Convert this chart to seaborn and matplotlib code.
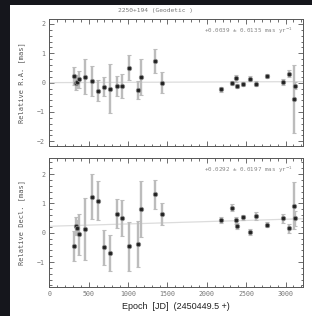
import numpy as np
import pandas as pd
import matplotlib
matplotlib.use("Agg")
import matplotlib.pyplot as plt
import seaborn as sns
from matplotlib.patches import Rectangle
from matplotlib.ticker import MultipleLocator

# Epochs (days after JD 2450449.5)
epochs = [317, 339, 347, 377, 457, 545, 615, 698, 774, 854, 922, 1006, 1130, 1159,
          1340, 1427, 2177, 2323, 2365, 2389, 2460, 2549, 2628, 2761, 2972, 3046,
          3110, 3118]

# Relative R.A. [mas]
ra = [0.23, 0.0, 0.03, 0.11, 0.2, 0.06, -0.27, -0.14, -0.2, -0.11, -0.11, 0.51, -0.25,
      0.2, 0.74, 0.0, -0.23, -0.02, 0.15, -0.11, -0.06, 0.13, -0.03, 0.22, 0.02, 0.31,
      -0.56, -0.1]
ra_err = [0.3, 0.25, 0.2, 0.3, 0.6, 0.5, 0.37, 0.33, 0.84, 0.33, 0.4, 0.42, 0.32, 0.62,
          0.41, 0.37, 0.08, 0.07, 0.12, 0.07, 0.07, 0.08, 0.1, 0.07, 0.1, 0.12, 1.15, 0.12]

# Relative Decl. [mas]
dec = [-0.45, 0.22, 0.17, -0.06, 0.12, 1.23, 1.09, -0.5, -0.69, 0.65, 0.5, -0.47, -0.38,
       0.82, 1.31, 0.65, 0.42, 0.85, 0.42, 0.22, 0.52, 0.02, 0.57, 0.28, 0.49, 0.15,
       0.92, 0.49]
dec_err = [0.52, 0.3, 0.25, 0.7, 1.05, 0.76, 0.67, 0.6, 0.6, 0.49, 0.6, 0.83, 0.78, 0.95,
           0.49, 0.37, 0.1, 0.12, 0.13, 0.1, 0.1, 0.1, 0.15, 0.1, 0.15, 0.15, 0.8, 0.25]

# Linear fits: intercept [mas], slope [mas/yr]
ra_fit = (0.0, 0.0039)
dec_fit = (0.22, 0.0292)
ra_text = "+0.0039 \u00b1 0.0135 mas yr$^{-1}$"
dec_text = "+0.0292 \u00b1 0.0197 mas yr$^{-1}$"

sns.set_style("ticks")
plt.rcParams["font.family"] = ["DejaVu Sans Mono", "DejaVu Sans"]

fig = plt.figure(figsize=(3.12, 3.16), dpi=100, facecolor="#15161c")
fig.patches.append(Rectangle((10 / 312, 0), 1, 1 - 5 / 316, transform=fig.transFigure,
                             facecolor="white", edgecolor="none", zorder=-10))

ax1 = fig.add_axes([0.158, 0.538, 0.813, 0.401])
ax2 = fig.add_axes([0.158, 0.093, 0.813, 0.406])

panels = [
    (ax1, ra, ra_err, ra_fit, ra_text, (-2.16, 2.16), "Relative R.A. [mas]"),
    (ax2, dec, dec_err, dec_fit, dec_text, (-1.84, 2.54), "Relative Decl. [mas]"),
]

xfit = np.array([0, 3220])
for ax, vals, errs, fit, txt, ylim, ylab in panels:
    df = pd.DataFrame({"epoch": epochs, "val": vals, "err": errs})
    fit_df = pd.DataFrame({"epoch": xfit, "val": fit[0] + fit[1] * xfit / 365.25})
    sns.lineplot(data=fit_df, x="epoch", y="val", ax=ax, color="#dcdcdc", lw=0.9, zorder=1)
    ax.errorbar(df["epoch"], df["val"], yerr=df["err"], fmt="none", ecolor="#bcbcbc",
                elinewidth=1.7, capsize=1.2, capthick=0.8, zorder=2)
    sns.scatterplot(data=df, x="epoch", y="val", ax=ax, color="#222222", s=10,
                    edgecolor="#888888", linewidth=0.6, zorder=3)
    ax.set_xlim(0, 3220)
    ax.set_ylim(*ylim)
    ax.xaxis.set_major_locator(MultipleLocator(500))
    ax.xaxis.set_minor_locator(MultipleLocator(100))
    ax.yaxis.set_major_locator(MultipleLocator(1))
    ax.yaxis.set_minor_locator(MultipleLocator(0.2))
    ax.tick_params(which="both", direction="in", top=True, right=True, width=0.6,
                   color="#555555", labelsize=4.8, labelcolor="#777777", pad=3)
    ax.tick_params(which="major", length=3.5)
    ax.tick_params(which="minor", length=1.8)
    for sp in ax.spines.values():
        sp.set_linewidth(0.7)
        sp.set_color("#555555")
    ax.set_ylabel(ylab, fontsize=5, color="#555555", labelpad=9)
    ax.set_xlabel("")
    ax.text(0.96, 0.91, txt, transform=ax.transAxes, ha="right", va="center",
            fontsize=4.2, color="#888888")

ax1.set_xticklabels([])
ax2.set_xlabel("Epoch  [JD]  (2450449.5 +)", fontsize=6.5, color="#222222",
               family="Liberation Sans", labelpad=4)
fig.text(0.5, 0.968, "2250+194 (Geodetic )", ha="center", va="center",
         fontsize=4.5, color="#777777")

fig.savefig("out.png", dpi=100, facecolor=fig.get_facecolor())
